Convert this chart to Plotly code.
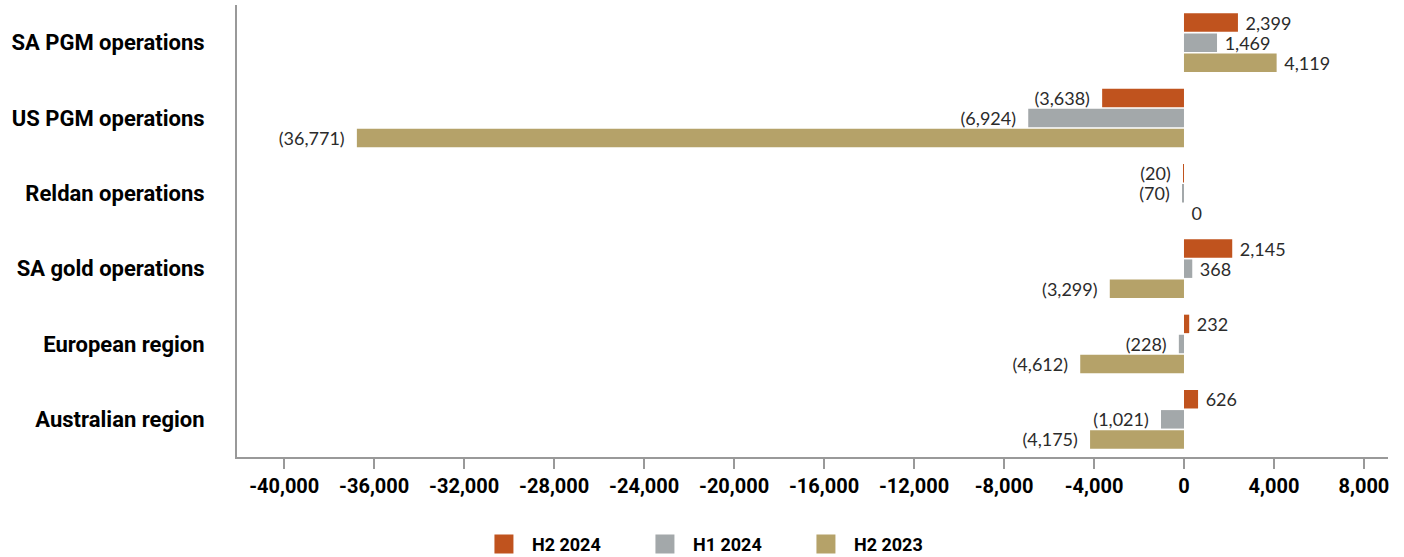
import plotly.graph_objects as go

# Operating segments (top to bottom)
categories = [
    "SA PGM operations",
    "US PGM operations",
    "Reldan operations",
    "SA gold operations",
    "European region",
    "Australian region",
]

# Values per period
h2_2024 = [2399, -3638, -20, 2145, 232, 626]
h1_2024 = [1469, -6924, -70, 368, -228, -1021]
h2_2023 = [4119, -36771, 0, -3299, -4612, -4175]

series_names = ["H2 2024", "H1 2024", "H2 2023"]
series_colors = ["#C0531E", "#A3A8AA", "#B5A269"]

tick_values = [-40000, -36000, -32000, -28000, -24000, -20000, -16000,
               -12000, -8000, -4000, 0, 4000, 8000]
tick_labels = ["-40,000", "-36,000", "-32,000", "-28,000", "-24,000", "-20,000",
               "-16,000", "-12,000", "-8,000", "-4,000", "0", "4,000", "8,000"]

NBSP = "\u00a0"


def fmt(v):
    """Accounting style: negatives in parentheses, with a little breathing room."""
    if v < 0:
        return f"({abs(v):,})" + NBSP * 2
    return NBSP + f"{v:,}"


fig = go.Figure()
for name, color, vals in zip(series_names, series_colors,
                             [h2_2024, h1_2024, h2_2023]):
    fig.add_trace(go.Bar(
        y=categories,
        x=vals,
        orientation="h",
        name=name,
        marker=dict(color=color, line=dict(width=0)),
        text=[fmt(v) for v in vals],
        textposition="outside",
        constraintext="none",
        cliponaxis=False,
        textfont=dict(family="Lato, Open Sans, sans-serif", size=18, color="#2b2b2b"),
        showlegend=False,
    ))
    # legend entry with a larger square swatch
    fig.add_trace(go.Scatter(
        x=[None], y=[None],
        mode="markers",
        name=name,
        marker=dict(symbol="square", size=16, color=color,
                    line=dict(color=color, width=3)),
        showlegend=True,
    ))

fig.update_layout(
    width=1404,
    height=557,
    margin=dict(l=237, r=16, t=5, b=100),
    paper_bgcolor="white",
    plot_bgcolor="white",
    barmode="group",
    bargap=0.2,
    bargroupgap=0.08,
    font=dict(family="Roboto, sans-serif", color="#000000"),
    xaxis=dict(
        range=[-42100, 9070],
        tickvals=tick_values,
        ticktext=tick_labels,
        showgrid=False,
        zeroline=False,
        showline=True,
        linecolor="#999999",
        linewidth=2,
        ticks="outside",
        ticklen=10,
        tickwidth=2,
        tickcolor="#999999",
        tickfont=dict(family="Roboto, sans-serif", size=20, color="#000000", weight="bold"),
    ),
    yaxis=dict(
        autorange="reversed",
        showgrid=False,
        zeroline=False,
        showline=True,
        linecolor="#999999",
        linewidth=2,
        ticks="",
        ticklabelstandoff=26,
        tickfont=dict(family="Roboto, sans-serif", size=22, color="#000000", weight="bold"),
    ),
    legend=dict(
        orientation="h",
        xref="container",
        yref="container",
        x=0.511,
        xanchor="center",
        y=0.023,
        yanchor="middle",
        itemwidth=46,
        entrywidth=100,
        font=dict(family="Roboto, sans-serif", size=18, color="#000000", weight="bold"),
        itemclick=False,
    ),
)

fig.write_html("out.html")
